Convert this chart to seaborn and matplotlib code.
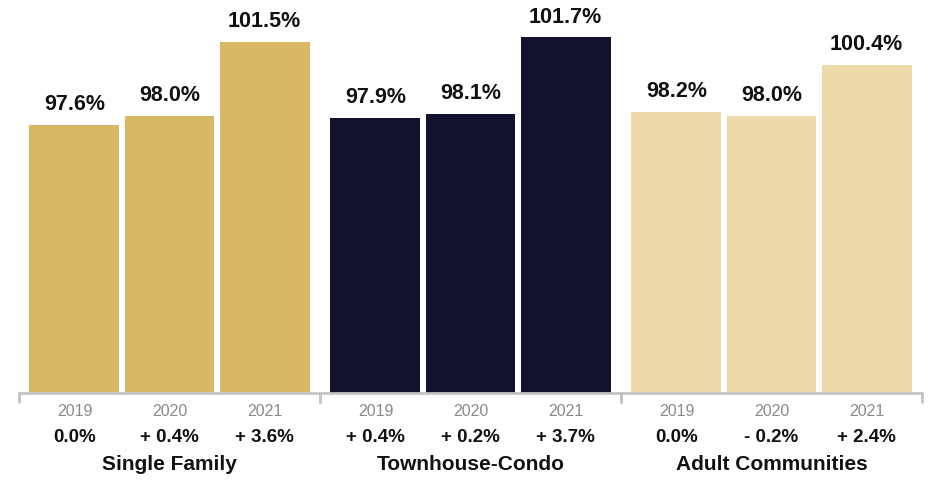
import matplotlib
matplotlib.use("Agg")
import matplotlib.pyplot as plt
import seaborn as sns
import pandas as pd

# List-price-to-sale-price ratios by segment and year
groups = ["Single Family", "Townhouse-Condo", "Adult Communities"]
years = ["2019", "2020", "2021"]
single_family = [97.6, 98.0, 101.5]
townhouse_condo = [97.9, 98.1, 101.7]
adult_communities = [98.2, 98.0, 100.4]

# Year-over-year change labels shown under each year
change_single_family = ["0.0%", "+ 0.4%", "+ 3.6%"]
change_townhouse_condo = ["+ 0.4%", "+ 0.2%", "+ 3.7%"]
change_adult_communities = ["0.0%", "- 0.2%", "+ 2.4%"]

colors = ["#D9B863", "#12112E", "#EDD9AA"]

sns.set_style("white")
plt.rcParams["font.family"] = ["Liberation Sans", "DejaVu Sans"]

fig = plt.figure(figsize=(9.3, 4.8), dpi=100)
left, right = 19 / 930, 922 / 930
bottom = 87 / 480
w = (right - left) / 3

series = [single_family, townhouse_condo, adult_communities]
changes = [change_single_family, change_townhouse_condo, change_adult_communities]

axis_grey = "#c4c4c4"
x0, x1 = -0.584, 2.584

for i, (name, vals, chg, col) in enumerate(zip(groups, series, changes, colors)):
    ax = fig.add_axes([left + i * w, bottom, w, 1 - bottom])
    df = pd.DataFrame({"year": years, "ratio": vals})
    sns.barplot(data=df, x="year", y="ratio", color=col, saturation=1,
                width=0.947, linewidth=0, ax=ax)
    ax.set_ylim(85, 103.45)
    ax.set_xlim(x0, x1)
    for s in ["top", "left", "right"]:
        ax.spines[s].set_visible(False)
    ax.spines["bottom"].set_color(axis_grey)
    ax.spines["bottom"].set_linewidth(2)
    ax.set_yticks([])
    ax.set_xlabel("")
    ax.set_ylabel("")
    ax.tick_params(axis="x", which="major", bottom=True, length=0, pad=8,
                   labelsize=11.5, labelcolor="#8a8a8a")
    ax.set_xticks([x0, x1], minor=True)
    ax.tick_params(axis="x", which="minor", bottom=True, length=7, width=2,
                   color=axis_grey, direction="out")
    ax.patch.set_alpha(0)

    ax.bar_label(ax.containers[0], labels=[f"{v:.1f}%" for v in vals],
                 padding=7, fontsize=15.5, fontweight="bold", color="#111111")

    for j, label in enumerate(chg):
        ax.annotate(label, xy=(j, 0), xycoords=("data", "axes fraction"),
                    xytext=(0, -44 * 0.72), textcoords="offset points",
                    ha="center", va="center", fontsize=13.5,
                    fontweight="bold", color="#111111")
    ax.annotate(name, xy=(1, 0), xycoords=("data", "axes fraction"),
                xytext=(0, -72 * 0.72), textcoords="offset points",
                ha="center", va="center", fontsize=15,
                fontweight="bold", color="#111111")

fig.savefig("out.png", dpi=100)
